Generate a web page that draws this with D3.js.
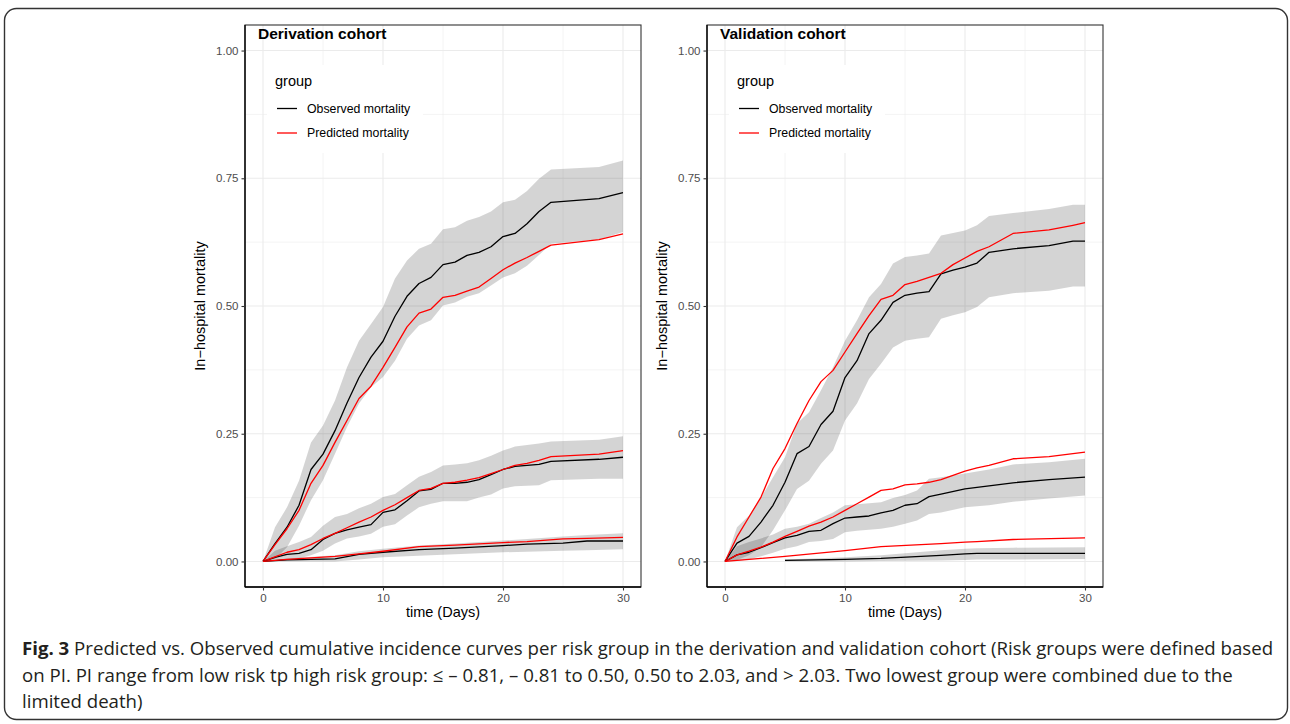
<!DOCTYPE html>
<html>
<head>
<meta charset="utf-8">
<script src="https://cdn.jsdelivr.net/npm/d3@7"></script>
<style>
body{margin:0;background:#fff;}
svg text{font-family:"Liberation Sans",Arial,sans-serif;}
.gridMajor{stroke:#ebebeb;stroke-width:1.1;}
.gridMinor{stroke:#ebebeb;stroke-width:0.55;}
.tickLabel{fill:#4d4d4d;font-size:11.5px;}
svg .caption text{font-family:"Open Sans","Noto Sans",sans-serif;fill:#231f20;}
</style>
</head>
<body>
<script>
//axis ticks and labels
var xTicks = [0, 10, 20, 30],
    xMinor = [5, 15, 25],
    yTicks = [0, 0.25, 0.5, 0.75, 1],
    yMinor = [0.125, 0.375, 0.625, 0.875];
var legendLabels = ["Observed mortality", "Predicted mortality"];
var panelTitles = ["Derivation cohort", "Validation cohort"];

//derivation cohort, high risk group
var derivHighDays = [0,1,2,3,4,5,6,7,8,9,10,11,12,13,14,15,16,17,18,19,20,21,22,23,24,28,30];
var derivHighObs  = [0,0.035,0.067,0.11,0.18,0.21,0.256,0.31,0.36,0.40,0.431,0.48,0.519,0.544,0.556,0.581,0.586,0.599,0.605,0.616,0.636,0.642,0.661,0.685,0.703,0.710,0.722];
var derivHighPred = [0,0.033,0.064,0.10,0.153,0.188,0.233,0.276,0.319,0.343,0.38,0.419,0.459,0.486,0.494,0.517,0.521,0.529,0.537,0.554,0.571,0.584,0.595,0.607,0.619,0.630,0.641];
var derivHighHi   = [0,0.067,0.106,0.158,0.233,0.266,0.315,0.38,0.432,0.465,0.498,0.554,0.589,0.612,0.622,0.65,0.654,0.667,0.674,0.685,0.703,0.708,0.725,0.749,0.767,0.772,0.785];
var derivHighLo   = [0,0.005,0.028,0.07,0.12,0.159,0.211,0.263,0.309,0.341,0.361,0.393,0.436,0.462,0.472,0.501,0.507,0.518,0.525,0.54,0.556,0.564,0.579,0.6,0.622,0.63,0.645];

//derivation cohort, middle risk group
var derivMidDays = [0,1,2,3,4,5,6,7,8,9,10,11,12,13,14,15,16,17,18,19,20,21,22,23,24,28,30];
var derivMidObs  = [0,0.008,0.014,0.016,0.023,0.043,0.055,0.062,0.067,0.072,0.096,0.101,0.119,0.138,0.141,0.153,0.153,0.155,0.16,0.17,0.18,0.186,0.188,0.19,0.196,0.2,0.204];
var derivMidPred = [0,0.009,0.018,0.023,0.033,0.045,0.055,0.066,0.077,0.087,0.1,0.111,0.125,0.139,0.143,0.153,0.155,0.159,0.164,0.172,0.18,0.188,0.192,0.198,0.205,0.21,0.217];
var derivMidHi   = [0,0.021,0.03,0.038,0.048,0.07,0.087,0.093,0.104,0.113,0.126,0.132,0.149,0.166,0.175,0.188,0.19,0.192,0.198,0.207,0.217,0.225,0.228,0.231,0.235,0.238,0.245];
var derivMidLo   = [0,0.002,0.004,0.006,0.012,0.021,0.035,0.045,0.049,0.054,0.068,0.073,0.09,0.106,0.113,0.118,0.118,0.118,0.125,0.131,0.143,0.147,0.148,0.149,0.159,0.162,0.162];

//derivation cohort, low risk group
var derivLowDays = [0,2,6,8,10,13,16,20,22,25,27,30];
var derivLowObs  = [0,0.003,0.005,0.014,0.018,0.023,0.026,0.031,0.034,0.036,0.04,0.04];
var derivLowPred = [0,0.004,0.01,0.015,0.02,0.029,0.032,0.037,0.039,0.044,0.045,0.047];
var derivLowHi   = [0,0.006,0.012,0.02,0.025,0.031,0.035,0.041,0.044,0.049,0.052,0.055];
var derivLowLo   = [0,0,0,0.004,0.008,0.011,0.014,0.018,0.019,0.021,0.022,0.024];

//validation cohort, high risk group
var validHighDays = [0,1,2,3,4,5,6,7,8,9,10,11,12,13,14,15,16,17,18,19,20,21,22,24,27,29,30];
var validHighObs  = [0,0.036,0.049,0.077,0.11,0.155,0.211,0.225,0.268,0.294,0.36,0.393,0.446,0.472,0.507,0.521,0.525,0.528,0.563,0.57,0.576,0.584,0.605,0.612,0.618,0.627,0.627];
var validHighPred = [0,0.048,0.087,0.126,0.182,0.221,0.27,0.315,0.352,0.374,0.41,0.446,0.481,0.513,0.521,0.542,0.548,0.556,0.564,0.581,0.594,0.607,0.616,0.642,0.649,0.658,0.663];
var validHighHi   = [0,0.067,0.09,0.125,0.165,0.204,0.27,0.292,0.335,0.38,0.432,0.472,0.517,0.543,0.583,0.596,0.599,0.603,0.638,0.643,0.648,0.658,0.676,0.682,0.69,0.698,0.698];
var validHighLo   = [0,0.003,0.012,0.028,0.061,0.1,0.142,0.158,0.191,0.217,0.276,0.309,0.357,0.387,0.419,0.432,0.436,0.439,0.475,0.482,0.488,0.498,0.517,0.525,0.53,0.538,0.538];

//validation cohort, middle risk group
var validMidDays = [0,1,2,3,4,5,6,7,8,9,10,11,12,13,14,15,16,17,18,20,21,22,24,27,30];
var validMidObs  = [0,0.013,0.018,0.027,0.037,0.046,0.051,0.059,0.061,0.074,0.085,0.087,0.089,0.095,0.1,0.11,0.113,0.127,0.132,0.142,0.145,0.148,0.154,0.16,0.165];
var validMidPred = [0,0.013,0.02,0.028,0.038,0.049,0.059,0.069,0.077,0.087,0.1,0.113,0.126,0.139,0.142,0.15,0.152,0.155,0.16,0.177,0.183,0.188,0.201,0.205,0.214];
var validMidHi   = [0,0.03,0.038,0.045,0.053,0.064,0.068,0.074,0.085,0.096,0.11,0.112,0.114,0.116,0.124,0.13,0.139,0.162,0.165,0.172,0.176,0.18,0.19,0.194,0.201];
var validMidLo   = [0,0.001,0.004,0.01,0.017,0.025,0.03,0.038,0.04,0.044,0.057,0.06,0.062,0.064,0.068,0.074,0.08,0.093,0.096,0.106,0.108,0.11,0.117,0.123,0.129];

//validation cohort, low risk group (no observed deaths before day 5)
var validLowDays = [0,5,10,13,18,20,21,24,30];
var validLowObs  = [null,0.002,0.004,0.006,0.012,0.015,0.016,0.016,0.016];
var validLowPred = [0,0.01,0.021,0.029,0.035,0.038,0.039,0.043,0.046];
var validLowHi   = [null,0.004,0.008,0.012,0.022,0.025,0.026,0.027,0.028];
var validLowLo   = [null,0,0,0.001,0.002,0.003,0.004,0.004,0.005];

//caption text
var captionBold = "Fig. 3";
var captionLines = [
    " Predicted vs. Observed cumulative incidence curves per risk group in the derivation and validation cohort (Risk groups were defined based",
    "on PI. PI range from low risk tp high risk group: \u2264 \u2013 0.81, \u2013 0.81 to 0.50, 0.50 to 2.03, and > 2.03. Two lowest group were combined due to the",
    "limited death)"
];

window.onload = drawFigure();

function drawFigure(){

    var width = 1290,
        height = 724;

    var svg = d3.select("body")
        .append("svg")
        .attr("width", width)
        .attr("height", height);

    //rounded frame round the whole figure
    svg.append("rect")
        .attr("x", 4.5).attr("y", 8.5)
        .attr("width", 1283).attr("height", 711)
        .attr("rx", 12)
        .attr("fill", "none")
        .attr("stroke", "#333")
        .attr("stroke-width", 1.4);

    var panels = [
        {title: panelTitles[0], left: 245, groups: [
            {days: derivHighDays, obs: derivHighObs, pred: derivHighPred, hi: derivHighHi, lo: derivHighLo},
            {days: derivMidDays, obs: derivMidObs, pred: derivMidPred, hi: derivMidHi, lo: derivMidLo},
            {days: derivLowDays, obs: derivLowObs, pred: derivLowPred, hi: derivLowHi, lo: derivLowLo}
        ]},
        {title: panelTitles[1], left: 707, groups: [
            {days: validHighDays, obs: validHighObs, pred: validHighPred, hi: validHighHi, lo: validHighLo},
            {days: validMidDays, obs: validMidObs, pred: validMidPred, hi: validMidHi, lo: validMidLo},
            {days: validLowDays, obs: validLowObs, pred: validLowPred, hi: validLowHi, lo: validLowLo}
        ]}
    ];

    panels.forEach(function(p){ drawPanel(svg, p); });

    //caption
    var cap = svg.append("g").attr("class", "caption");
    var baselines = [655, 681.5, 708];
    var line1 = cap.append("text").attr("x", 22).attr("y", baselines[0]).attr("font-size", 17);
    line1.append("tspan").attr("font-weight", "bold").text(captionBold);
    line1.append("tspan").text(captionLines[0]);
    //fit the first line to the width seen in the figure
    var w = line1.node().getComputedTextLength();
    var fs = 17 * 1252 / w;
    line1.attr("font-size", fs);
    for (var i = 1; i < captionLines.length; i++){
        cap.append("text")
            .attr("x", 22).attr("y", baselines[i])
            .attr("font-size", fs)
            .text(captionLines[i]);
    }
};

function drawPanel(svg, p){
    var top = 25, bottom = 587, right = p.left + 396;

    var x = d3.scaleLinear().domain([-1.5, 31.5]).range([p.left, right]);
    var y = d3.scaleLinear().domain([-0.05, 1.05]).range([bottom, top]);

    var g = svg.append("g");

    //grid lines
    g.selectAll(".gx").data(xMinor).enter().append("line")
        .attr("class", "gridMinor")
        .attr("x1", x).attr("x2", x).attr("y1", top).attr("y2", bottom);
    g.selectAll(".gy").data(yMinor).enter().append("line")
        .attr("class", "gridMinor")
        .attr("y1", y).attr("y2", y).attr("x1", p.left).attr("x2", right);
    g.selectAll(".gX").data(xTicks).enter().append("line")
        .attr("class", "gridMajor")
        .attr("x1", x).attr("x2", x).attr("y1", top).attr("y2", bottom);
    g.selectAll(".gY").data(yTicks).enter().append("line")
        .attr("class", "gridMajor")
        .attr("y1", y).attr("y2", y).attr("x1", p.left).attr("x2", right);

    //confidence bands
    p.groups.forEach(function(grp){
        var area = d3.area()
            .defined(function(d, i){ return grp.lo[i] != null; })
            .x(function(d){ return x(d); })
            .y0(function(d, i){ return y(grp.lo[i]); })
            .y1(function(d, i){ return y(grp.hi[i]); });
        g.append("path")
            .datum(grp.days)
            .attr("d", area)
            .attr("fill", "#000")
            .attr("fill-opacity", 0.17);
    });

    //observed and predicted curves
    p.groups.forEach(function(grp){
        [["obs", "#000000"], ["pred", "#ff0000"]].forEach(function(s){
            var vals = grp[s[0]];
            var line = d3.line()
                .defined(function(d, i){ return vals[i] != null; })
                .x(function(d){ return x(d); })
                .y(function(d, i){ return y(vals[i]); });
            g.append("path")
                .datum(grp.days)
                .attr("d", line)
                .attr("fill", "none")
                .attr("stroke", s[1])
                .attr("stroke-width", 1.3)
                .attr("stroke-linejoin", "round");
        });
    });

    //legend inside the panel
    var lg = g.append("g").attr("transform", "translate(" + (p.left + 22) + ",65)");
    lg.append("rect").attr("width", 156).attr("height", 88).attr("fill", "#fff");
    lg.append("text").attr("x", 8).attr("y", 21).attr("font-size", 14.5).attr("fill", "#000").text("group");
    legendLabels.forEach(function(lab, i){
        var ly = 43.5 + i * 24.5;
        lg.append("line").attr("x1", 10).attr("x2", 30).attr("y1", ly).attr("y2", ly)
            .attr("stroke", i == 0 ? "#000" : "#ff0000").attr("stroke-width", 1.3);
        lg.append("text").attr("x", 40).attr("y", ly + 4.3).attr("font-size", 12.3).attr("fill", "#000").text(lab);
    });

    //panel border, then black axis lines
    g.append("rect")
        .attr("x", p.left).attr("y", top)
        .attr("width", right - p.left).attr("height", bottom - top)
        .attr("fill", "none").attr("stroke", "#333").attr("stroke-width", 1.1);

    var yAxis = d3.axisLeft(y).tickValues(yTicks).tickFormat(d3.format(".2f")).tickSize(3.5).tickPadding(3);
    var xAxis = d3.axisBottom(x).tickValues(xTicks).tickFormat(d3.format("d")).tickSize(3.5).tickPadding(3);

    var ya = g.append("g").attr("transform", "translate(" + p.left + ",0)").call(yAxis);
    var xa = g.append("g").attr("transform", "translate(0," + bottom + ")").call(xAxis);
    [ya, xa].forEach(function(a){
        a.select(".domain").attr("stroke", "#000").attr("stroke-width", 1.3);
        a.selectAll(".tick line").attr("stroke", "#333").attr("stroke-width", 1.1);
        a.selectAll(".tick text").attr("class", "tickLabel").attr("font-family", null).attr("font-size", null);
    });
    //stretch the axis lines over the full panel edge
    ya.select(".domain").attr("d", "M0," + top + "V" + bottom);
    xa.select(".domain").attr("d", "M" + p.left + ",0H" + right);

    //axis titles
    g.append("text")
        .attr("transform", "translate(" + (p.left - 40) + "," + y(0.5) + ") rotate(-90)")
        .attr("text-anchor", "middle")
        .attr("font-size", 14.5)
        .text("In\u2212hospital mortality");
    g.append("text")
        .attr("x", x(15)).attr("y", 617)
        .attr("text-anchor", "middle")
        .attr("font-size", 14.5)
        .text("time (Days)");

    //panel title
    g.append("text")
        .attr("x", p.left + 13).attr("y", 39)
        .attr("font-size", 15.5)
        .attr("font-weight", "bold")
        .text(p.title);
};
</script>
</body>
</html>
